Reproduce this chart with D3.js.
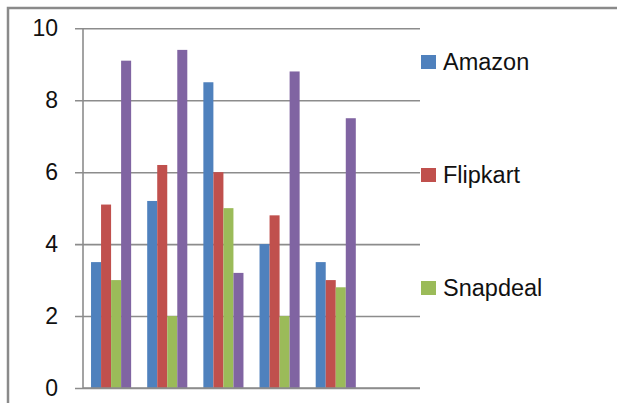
<!DOCTYPE html>
<html>
<head>
<meta charset="utf-8">
<script src="https://cdn.jsdelivr.net/npm/d3@7"></script>
<style>
    body { margin: 0; background: #fff; }
    svg { display: block; font-family: "Liberation Sans", Arial, sans-serif; }
</style>
</head>
<body>
<div id="chart"></div>
<script>
// data
// ---------------------------------------------------------
// six category slots on the axis, the last one is left empty
const categories = ["1", "2", "3", "4", "5", "6"];
const seriesNames = ["Amazon", "Flipkart", "Snapdeal", "Series 4"];
const amazon = [3.5, 5.2, 8.5, 4.0, 3.5];
const flipkart = [5.1, 6.2, 6.0, 4.8, 3.0];
const snapdeal = [3.0, 2.0, 5.0, 2.0, 2.8];
const series4 = [9.1, 9.4, 3.2, 8.8, 7.5];
const yTicks = [0, 2, 4, 6, 8, 10];
const legendNames = ["Amazon", "Flipkart", "Snapdeal"];

const colors = ["#4f81bd", "#c0504d", "#9bbb59", "#8064a2"];
const seriesValues = [amazon, flipkart, snapdeal, series4];

// layout
// ---------------------------------------------------------
const width = 617,
    height = 403,
    plotLeft = 83,
    plotRight = 420,
    plotTop = 28.3,
    plotBottom = 388;

const svg = d3.select("#chart").append("svg")
    .attr("width", width)
    .attr("height", height);

// outer frame (right and bottom edges fall outside the picture)
svg.append("path")
    .attr("d", `M8,${height + 5}V8H${width + 5}`)
    .attr("fill", "none")
    .attr("stroke", "#8a8a8a")
    .attr("stroke-width", 2.5);

// scales
// ---------------------------------------------------------
const x = d3.scaleBand()
    .domain(categories)
    .range([plotLeft, plotRight])
    .paddingInner(0.286)
    .paddingOuter(0.143);

const xInner = d3.scaleBand()
    .domain(seriesNames)
    .range([0, x.bandwidth()]);

const y = d3.scaleLinear()
    .domain([0, 10])
    .range([plotBottom, plotTop]);

// gridlines + y axis
// ---------------------------------------------------------
const yAxis = d3.axisLeft(y)
    .tickValues(yTicks)
    .tickSize(-(plotRight - plotLeft))
    .tickPadding(25)
    .tickFormat(d3.format("d"));

const gy = svg.append("g")
    .attr("transform", `translate(${plotLeft},0)`)
    .call(yAxis);

gy.select(".domain").remove();
gy.selectAll(".tick line")
    .attr("x1", -8)
    .attr("stroke", "#8c8c8c")
    .attr("stroke-width", 1.6);
gy.selectAll(".tick text")
    .attr("font-size", 23)
    .attr("font-family", "Liberation Sans, Arial, sans-serif")
    .attr("fill", "#111");

// vertical axis line
svg.append("line")
    .attr("x1", plotLeft).attr("x2", plotLeft)
    .attr("y1", plotTop).attr("y2", plotBottom)
    .attr("stroke", "#8c8c8c")
    .attr("stroke-width", 1.6);

// bars
// ---------------------------------------------------------
const groups = svg.append("g").selectAll("g")
    .data(seriesNames)
    .join("g")
    .attr("fill", (d, i) => colors[i]);

groups.selectAll("rect")
    .data((name, i) => seriesValues[i].map((v, j) => ({ name, cat: categories[j], value: v })))
    .join("rect")
    .attr("x", d => x(d.cat) + xInner(d.name))
    .attr("y", d => y(d.value))
    .attr("width", xInner.bandwidth())
    .attr("height", d => y(0) - y(d.value));

// baseline over the bars
svg.append("line")
    .attr("x1", plotLeft).attr("x2", plotRight)
    .attr("y1", plotBottom).attr("y2", plotBottom)
    .attr("stroke", "#8c8c8c")
    .attr("stroke-width", 1.6);

// legend
// ---------------------------------------------------------
const legend = svg.append("g").selectAll("g")
    .data(legendNames)
    .join("g")
    .attr("transform", (d, i) => `translate(421,${62 + i * 113})`);

legend.append("rect")
    .attr("x", 0)
    .attr("y", -7)
    .attr("width", 15)
    .attr("height", 14)
    .attr("fill", (d, i) => colors[i]);

legend.append("text")
    .attr("x", 22)
    .attr("dy", "0.36em")
    .attr("font-size", 23.5)
    .attr("fill", "#111")
    .text(d => d);
</script>
</body>
</html>
